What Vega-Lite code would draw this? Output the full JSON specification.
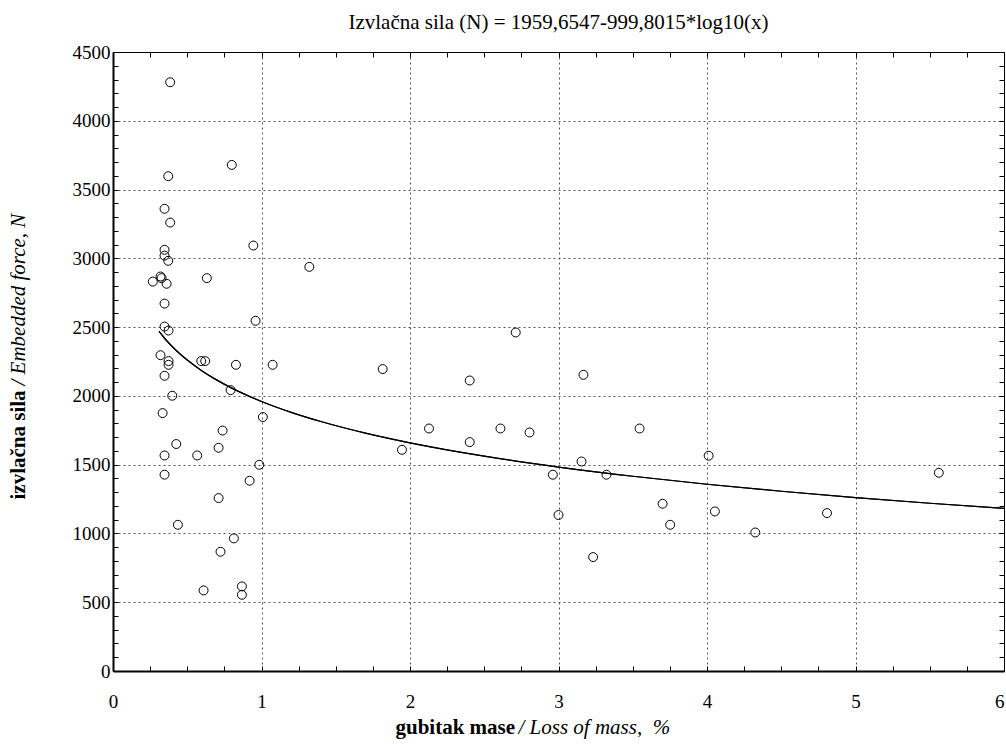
{
  "$schema": "https://vega.github.io/schema/vega-lite/v6.json",
  "autosize": {"type": "none"},
  "width": 891,
  "height": 619,
  "padding": {"left": 113, "top": 52, "right": 2, "bottom": 75},
  "background": "white",
  "title": {
    "text": "Izvlačna sila (N) = 1959,6547-999,8015*log10(x)",
    "font": "Liberation Serif",
    "fontSize": 21,
    "fontWeight": "normal",
    "color": "black",
    "anchor": "middle",
    "offset": 10
  },
  "config": {
    "view": {"stroke": "black", "strokeWidth": 1},
    "font": "Liberation Serif",
    "axis": {
      "labelFont": "Liberation Serif",
      "titleFont": "Liberation Serif",
      "labelColor": "black",
      "titleColor": "black",
      "domainColor": "black",
      "tickColor": "black",
      "labelOverlap": false,
      "labelFlush": false
    }
  },
  "datasets": {
    "pts": [
      {"x": 0.385, "y": 4280}, {"x": 0.800, "y": 3679}, {"x": 0.372, "y": 3597}, {"x": 0.347, "y": 3360},
      {"x": 0.385, "y": 3260}, {"x": 0.945, "y": 3093}, {"x": 0.347, "y": 3062}, {"x": 0.347, "y": 3020},
      {"x": 0.372, "y": 2982}, {"x": 0.320, "y": 2868}, {"x": 0.327, "y": 2856}, {"x": 0.268, "y": 2831},
      {"x": 0.361, "y": 2815}, {"x": 0.632, "y": 2856}, {"x": 0.347, "y": 2671}, {"x": 0.960, "y": 2546},
      {"x": 0.347, "y": 2504}, {"x": 0.374, "y": 2475}, {"x": 0.320, "y": 2296}, {"x": 0.374, "y": 2253},
      {"x": 0.374, "y": 2226}, {"x": 0.594, "y": 2253}, {"x": 0.621, "y": 2253}, {"x": 0.828, "y": 2226},
      {"x": 1.075, "y": 2226}, {"x": 0.347, "y": 2146}, {"x": 0.792, "y": 2042}, {"x": 0.399, "y": 2001},
      {"x": 0.334, "y": 1875}, {"x": 1.009, "y": 1846}, {"x": 0.738, "y": 1748}, {"x": 0.426, "y": 1650},
      {"x": 0.711, "y": 1623}, {"x": 0.347, "y": 1567}, {"x": 0.567, "y": 1567}, {"x": 0.985, "y": 1499},
      {"x": 0.347, "y": 1427}, {"x": 0.920, "y": 1383}, {"x": 0.711, "y": 1257}, {"x": 0.437, "y": 1063},
      {"x": 0.814, "y": 964}, {"x": 0.724, "y": 867}, {"x": 0.610, "y": 586}, {"x": 0.868, "y": 615},
      {"x": 0.868, "y": 554}, {"x": 1.322, "y": 2938}, {"x": 1.816, "y": 2195}, {"x": 1.946, "y": 1608},
      {"x": 2.128, "y": 1763}, {"x": 2.402, "y": 2112}, {"x": 2.402, "y": 1664}, {"x": 2.712, "y": 2461},
      {"x": 2.609, "y": 1763}, {"x": 2.805, "y": 1734}, {"x": 2.962, "y": 1427}, {"x": 3.000, "y": 1134},
      {"x": 3.168, "y": 2153}, {"x": 3.155, "y": 1523}, {"x": 3.323, "y": 1427}, {"x": 3.546, "y": 1763},
      {"x": 3.701, "y": 1216}, {"x": 3.752, "y": 1063}, {"x": 3.233, "y": 828}, {"x": 4.011, "y": 1565},
      {"x": 4.053, "y": 1160}, {"x": 4.325, "y": 1007}, {"x": 4.808, "y": 1148}, {"x": 5.561, "y": 1441}
    ],
    "fit": [
      {"x": 0.31, "y": 2468.2}, {"x": 0.35, "y": 2415.5}, {"x": 0.4, "y": 2357.5}, {"x": 0.45, "y": 2306.4},
      {"x": 0.5, "y": 2260.6}, {"x": 0.6, "y": 2181.5}, {"x": 0.7, "y": 2114.5}, {"x": 0.8, "y": 2056.6},
      {"x": 0.9, "y": 2005.4}, {"x": 1.0, "y": 1959.7}, {"x": 1.2, "y": 1880.5}, {"x": 1.4, "y": 1813.6},
      {"x": 1.7, "y": 1729.3}, {"x": 2.0, "y": 1658.7}, {"x": 2.5, "y": 1561.8}, {"x": 3.0, "y": 1482.6},
      {"x": 3.5, "y": 1415.7}, {"x": 4.0, "y": 1357.7}, {"x": 4.5, "y": 1306.6}, {"x": 5.0, "y": 1260.8},
      {"x": 5.5, "y": 1219.4}, {"x": 6.0, "y": 1181.6}
    ]
  },
  "layer": [
    {
      "data": {"name": "pts"},
      "mark": {"type": "point", "shape": "circle", "filled": false, "color": "black", "size": 80, "strokeWidth": 1, "opacity": 1},
      "encoding": {
        "x": {
          "field": "x", "type": "quantitative",
          "scale": {"domain": [0, 6], "nice": false, "zero": false},
          "axis": {
            "orient": "bottom",
            "values": [0,0.25,0.5,0.75,1,1.25,1.5,1.75,2,2.25,2.5,2.75,3,3.25,3.5,3.75,4,4.25,4.5,4.75,5,5.25,5.5,5.75,6],
            "labelExpr": "datum.value % 1 === 0 ? format(datum.value, 'd') : ''",
            "labelFontSize": 19,
            "labelPadding": 26,
            "labelAlign": {"condition": {"test": "datum.value === 6", "value": "right"}, "value": "center"},
            "tickSize": -5,
            "tickWidth": 1,
            "domainWidth": 2,
            "grid": true,
            "gridColor": "#555555",
            "gridDash": [2, 3],
            "gridWidth": 1,
            "gridOpacity": {"condition": {"test": "datum.value % 1 === 0", "value": 1}, "value": 0},
            "title": "gubitak mase",
            "titleFontSize": 21,
            "titleFontWeight": "bold",
            "titleAlign": "left",
            "titleBaseline": "alphabetic",
            "titleX": 282,
            "titleY": 62
          }
        },
        "y": {
          "field": "y", "type": "quantitative",
          "scale": {"domain": [0, 4500], "nice": false, "zero": false},
          "axis": {
            "orient": "left",
            "values": [0,100,200,300,400,500,600,700,800,900,1000,1100,1200,1300,1400,1500,1600,1700,1800,1900,2000,2100,2200,2300,2400,2500,2600,2700,2800,2900,3000,3100,3200,3300,3400,3500,3600,3700,3800,3900,4000,4100,4200,4300,4400,4500],
            "labelExpr": "datum.value % 500 === 0 ? format(datum.value, 'd') : ''",
            "labelFontSize": 19,
            "labelPadding": 8,
            "tickSize": -5,
            "tickWidth": 1,
            "domainWidth": 2,
            "grid": true,
            "gridColor": "#555555",
            "gridDash": [2, 3],
            "gridWidth": 1,
            "gridOpacity": {"condition": {"test": "datum.value % 500 === 0", "value": 1}, "value": 0},
            "title": "izvlačna sila",
            "titleFontSize": 21,
            "titleFontWeight": "bold",
            "titleAngle": 270,
            "titleAlign": "left",
            "titleBaseline": "middle",
            "titleX": -95,
            "titleY": 447
          }
        }
      }
    },
    {
      "data": {"name": "fit"},
      "mark": {"type": "line", "color": "black", "strokeWidth": 1.2, "interpolate": "monotone"},
      "encoding": {
        "x": {
          "field": "x", "type": "quantitative",
          "axis": {
            "orient": "top",
            "values": [0,0.25,0.5,0.75,1,1.25,1.5,1.75,2,2.25,2.5,2.75,3,3.25,3.5,3.75,4,4.25,4.5,4.75,5,5.25,5.5,5.75,6],
            "labels": false, "grid": false, "tickSize": -5, "tickWidth": 1, "domainWidth": 1, "title": null
          }
        },
        "y": {
          "field": "y", "type": "quantitative",
          "axis": {
            "orient": "right",
            "values": [0,100,200,300,400,500,600,700,800,900,1000,1100,1200,1300,1400,1500,1600,1700,1800,1900,2000,2100,2200,2300,2400,2500,2600,2700,2800,2900,3000,3100,3200,3300,3400,3500,3600,3700,3800,3900,4000,4100,4200,4300,4400,4500],
            "labels": false, "grid": false, "tickSize": -5, "tickWidth": 1, "domainWidth": 1, "title": null
          }
        }
      }
    },
    {
      "data": {"name": "fit"},
      "mark": {"type": "line", "color": "black", "strokeWidth": 1.2, "interpolate": "monotone"},
      "encoding": {
        "x": {
          "field": "x", "type": "quantitative",
          "axis": {
            "orient": "bottom",
            "labels": false, "ticks": false, "domain": false, "grid": false,
            "title": "/ Loss of mass,\u00a0\u00a0%",
            "titleFontSize": 21,
            "titleFontWeight": "normal",
            "titleFontStyle": "italic",
            "titleAlign": "left",
            "titleBaseline": "alphabetic",
            "titleX": 405,
            "titleY": 62
          }
        },
        "y": {
          "field": "y", "type": "quantitative",
          "axis": {
            "orient": "left",
            "labels": false, "ticks": false, "domain": false, "grid": false,
            "title": "/ Embedded force, N",
            "titleFontSize": 21,
            "titleFontWeight": "normal",
            "titleFontStyle": "italic",
            "titleAngle": 270,
            "titleAlign": "left",
            "titleBaseline": "middle",
            "titleX": -95,
            "titleY": 333
          }
        }
      }
    }
  ],
  "resolve": {"axis": {"x": "independent", "y": "independent"}}
}
